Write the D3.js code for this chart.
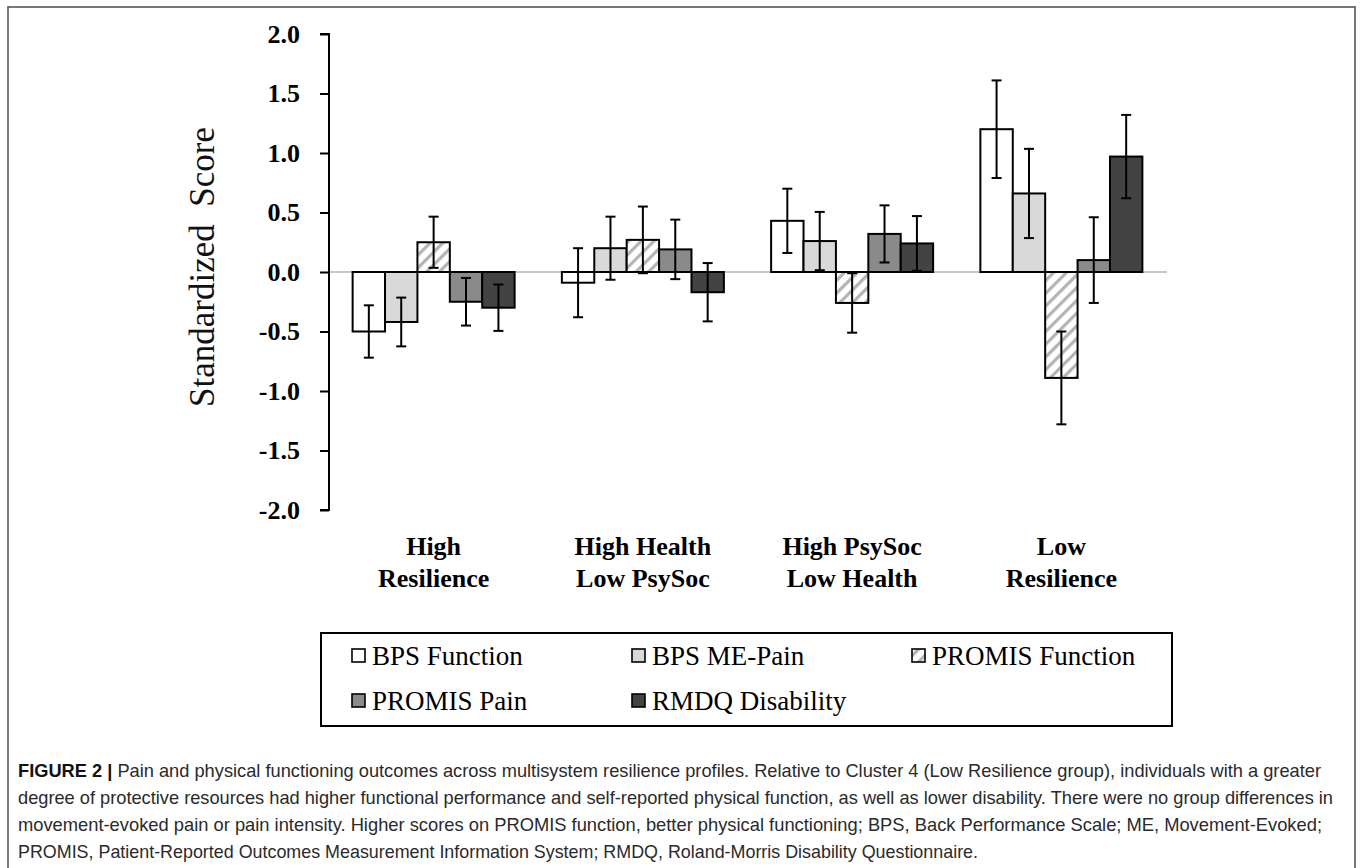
<!DOCTYPE html>
<html>
<head>
<meta charset="utf-8">
<script src="https://cdn.jsdelivr.net/npm/d3@7"></script>
<style>
  html, body { margin: 0; padding: 0; background: #fff; }
  svg { display: block; }
</style>
</head>
<body>
<svg id="chart" width="1362" height="868"></svg>
<script>
// ---------- DATA ----------
const categories = ["High Resilience", "High Health Low PsySoc", "High PsySoc Low Health", "Low Resilience"];
const categoryLines = [["High", "Resilience"], ["High Health", "Low PsySoc"], ["High PsySoc", "Low Health"], ["Low", "Resilience"]];
const seriesNames = ["BPS Function", "BPS ME-Pain", "PROMIS Function", "PROMIS Pain", "RMDQ Disability"];

const bpsFunction      = [-0.50, -0.09, 0.43, 1.20];
const bpsFunctionErr   = [0.22, 0.29, 0.27, 0.41];
const bpsMePain        = [-0.42, 0.20, 0.26, 0.66];
const bpsMePainErr     = [0.205, 0.265, 0.245, 0.375];
const promisFunction   = [0.25, 0.27, -0.26, -0.89];
const promisFunctionErr= [0.215, 0.28, 0.25, 0.39];
const promisPain       = [-0.25, 0.19, 0.32, 0.10];
const promisPainErr    = [0.20, 0.25, 0.24, 0.36];
const rmdqDisability   = [-0.30, -0.17, 0.24, 0.97];
const rmdqDisabilityErr= [0.195, 0.245, 0.23, 0.35];

const yTicks = [2.0, 1.5, 1.0, 0.5, 0.0, -0.5, -1.0, -1.5, -2.0];

const captionLines = [
  "Pain and physical functioning outcomes across multisystem resilience profiles. Relative to Cluster 4 (Low Resilience group), individuals with a greater",
  "degree of protective resources had higher functional performance and self-reported physical function, as well as lower disability. There were no group differences in",
  "movement-evoked pain or pain intensity. Higher scores on PROMIS function, better physical functioning; BPS, Back Performance Scale; ME, Movement-Evoked;",
  "PROMIS, Patient-Reported Outcomes Measurement Information System; RMDQ, Roland-Morris Disability Questionnaire."
];

// ---------- BUILD ----------
const seriesValues = [bpsFunction, bpsMePain, promisFunction, promisPain, rmdqDisability];
const seriesErrs = [bpsFunctionErr, bpsMePainErr, promisFunctionErr, promisPainErr, rmdqDisabilityErr];
const fills = ["#ffffff", "#d9d9d9", "url(#hatch)", "#8a8a8a", "#434343"];

const svg = d3.select("#chart");
const defs = svg.append("defs");
const pat = defs.append("pattern")
  .attr("id", "hatch").attr("patternUnits", "userSpaceOnUse")
  .attr("width", 9).attr("height", 9)
  .attr("patternTransform", "rotate(45)");
pat.append("rect").attr("width", 9).attr("height", 9).attr("fill", "#fff");
pat.append("rect").attr("x", 0).attr("y", 0).attr("width", 3.2).attr("height", 9).attr("fill", "#b4b4b4");

// frame
svg.append("rect").attr("x", 8).attr("y", 7).attr("width", 1347).attr("height", 900)
  .attr("fill", "none").attr("stroke", "#555").attr("stroke-width", 1.6);

const y = d3.scaleLinear().domain([-2, 2]).range([510, 34]);
const x0 = d3.scaleBand().domain(categories).range([329, 1166]).paddingInner(0.2258).paddingOuter(0.1129);
const x1 = d3.scaleBand().domain(seriesNames).range([0, x0.bandwidth()]);

// zero line
svg.append("line").attr("x1", 329).attr("x2", 1167).attr("y1", y(0)).attr("y2", y(0))
  .attr("stroke", "#c8c8c8").attr("stroke-width", 2);

// y axis
const fmt = d3.format(".1f");
const yAxis = d3.axisLeft(y).tickValues(yTicks).tickSize(9).tickPadding(20)
  .tickFormat(d => fmt(d).replace("\u2212", "-"));
const gy = svg.append("g").attr("transform", "translate(329,0)").call(yAxis);
gy.select(".domain").attr("stroke", "#000").attr("stroke-width", 2).attr("d", `M-9,${y(2)}H0V${y(-2)}H-9`);
gy.selectAll(".tick line").attr("stroke", "#000").attr("stroke-width", 2);
gy.selectAll(".tick text")
  .attr("font-family", "'Liberation Serif', 'Times New Roman', serif")
  .attr("font-weight", "bold").attr("font-size", 26).attr("fill", "#000");

// y axis title
svg.append("text")
  .attr("transform", `translate(214, ${y(0) - 5}) rotate(-90)`)
  .attr("text-anchor", "middle")
  .attr("font-family", "'Liberation Serif', 'Times New Roman', serif")
  .attr("font-size", 35).attr("fill", "#111")
  .attr("xml:space", "preserve")
  .text("Standardized  Score");

// bars
const groups = svg.append("g").selectAll("g").data(categories).join("g")
  .attr("transform", d => `translate(${x0(d)},0)`);

groups.each(function(cat, ci) {
  const g = d3.select(this);
  seriesNames.forEach((s, si) => {
    const v = seriesValues[si][ci];
    g.append("rect")
      .attr("x", x1(s)).attr("width", x1.bandwidth())
      .attr("y", Math.min(y(v), y(0))).attr("height", Math.abs(y(v) - y(0)))
      .attr("fill", fills[si]).attr("stroke", "#000").attr("stroke-width", 2);
  });
  seriesNames.forEach((s, si) => {
    const v = seriesValues[si][ci], e = seriesErrs[si][ci];
    const cx = x1(s) + x1.bandwidth() / 2;
    g.append("line").attr("x1", cx).attr("x2", cx).attr("y1", y(v + e)).attr("y2", y(v - e))
      .attr("stroke", "#000").attr("stroke-width", 2);
    [v + e, v - e].forEach(t => {
      g.append("line").attr("x1", cx - 5).attr("x2", cx + 5).attr("y1", y(t)).attr("y2", y(t))
        .attr("stroke", "#000").attr("stroke-width", 2);
    });
  });
});

// category labels
categories.forEach((c, ci) => {
  const cx = x0(c) + x0.bandwidth() / 2;
  const t = svg.append("text").attr("text-anchor", "middle")
    .attr("font-family", "'Liberation Serif', 'Times New Roman', serif")
    .attr("font-weight", "bold").attr("font-size", 26).attr("fill", "#000");
  categoryLines[ci].forEach((ln, li) => {
    t.append("tspan").attr("x", cx).attr("y", 555 + li * 32).text(ln);
  });
});

// legend
svg.append("rect").attr("x", 321).attr("y", 633).attr("width", 851).attr("height", 93)
  .attr("fill", "#fff").attr("stroke", "#000").attr("stroke-width", 2);
seriesNames.forEach((s, si) => {
  const col = si % 3, row = Math.floor(si / 3);
  const lx = 352 + col * 280, ly = 665 + row * 45;
  svg.append("rect").attr("x", lx).attr("y", ly - 16).attr("width", 13).attr("height", 13)
    .attr("fill", fills[si]).attr("stroke", "#000").attr("stroke-width", 1.6);
  svg.append("text").attr("x", lx + 20).attr("y", ly)
    .attr("font-family", "'Liberation Serif', 'Times New Roman', serif")
    .attr("font-size", 27).attr("fill", "#000").text(s);
});

// caption
const capWidths = [1303, 1315, 1304, 960];
captionLines.forEach((ln, i) => {
  const t = svg.append("text").attr("x", 18).attr("y", 777 + i * 27)
    .attr("font-family", "'Liberation Sans', Arial, sans-serif")
    .attr("font-size", 18.5).attr("fill", "#2a2a2a")
    .attr("textLength", capWidths[i]).attr("lengthAdjust", "spacingAndGlyphs");
  if (i === 0) {
    t.append("tspan").attr("font-weight", "bold").attr("fill", "#111").text("FIGURE 2 | ");
  }
  t.append("tspan").text(ln);
});
</script>
</body>
</html>
